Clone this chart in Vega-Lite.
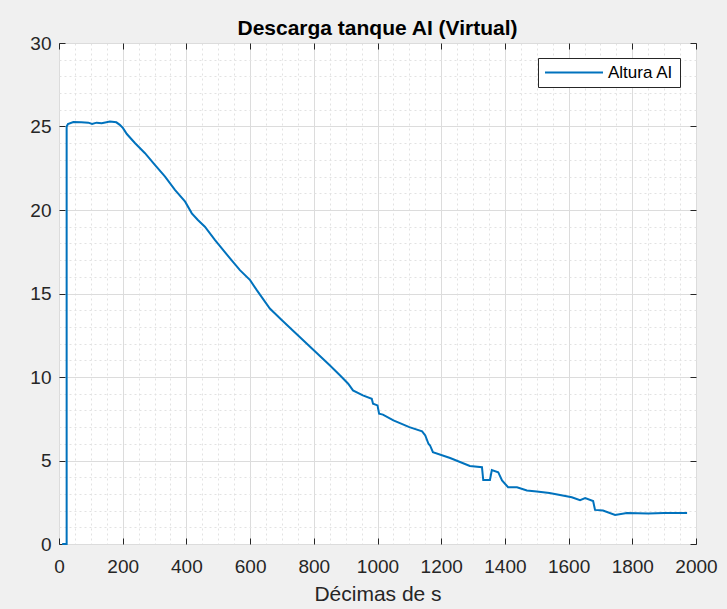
{
  "$schema": "https://vega.github.io/schema/vega-lite/v6.json",
  "autosize": "none",
  "width": 637,
  "height": 501,
  "padding": {"left": 59, "top": 43, "right": 31, "bottom": 65},
  "background": "#f0f0f0",
  "config": {
    "view": {"fill": "white", "stroke": "#262626", "strokeWidth": 1},
    "font": "Liberation Sans"
  },
  "title": {"text": "Descarga tanque AI (Virtual)", "fontSize": 21, "fontWeight": "bold", "font": "Liberation Sans", "color": "#000000", "anchor": "middle", "offset": -5},
  "data": {"values": [
    {"t": 10, "h": 0, "serie": "Altura AI"},
    {"t": 24, "h": 0, "serie": "Altura AI"},
    {"t": 24, "h": 25.0, "serie": "Altura AI"},
    {"t": 28, "h": 25.15, "serie": "Altura AI"},
    {"t": 45, "h": 25.27, "serie": "Altura AI"},
    {"t": 70, "h": 25.25, "serie": "Altura AI"},
    {"t": 92, "h": 25.23, "serie": "Altura AI"},
    {"t": 104, "h": 25.15, "serie": "Altura AI"},
    {"t": 118, "h": 25.23, "serie": "Altura AI"},
    {"t": 134, "h": 25.2, "serie": "Altura AI"},
    {"t": 160, "h": 25.3, "serie": "Altura AI"},
    {"t": 180, "h": 25.25, "serie": "Altura AI"},
    {"t": 191, "h": 25.1, "serie": "Altura AI"},
    {"t": 201, "h": 24.9, "serie": "Altura AI"},
    {"t": 213, "h": 24.55, "serie": "Altura AI"},
    {"t": 239, "h": 24.0, "serie": "Altura AI"},
    {"t": 270, "h": 23.4, "serie": "Altura AI"},
    {"t": 301, "h": 22.7, "serie": "Altura AI"},
    {"t": 333, "h": 22.0, "serie": "Altura AI"},
    {"t": 364, "h": 21.2, "serie": "Altura AI"},
    {"t": 396, "h": 20.5, "serie": "Altura AI"},
    {"t": 417, "h": 19.8, "serie": "Altura AI"},
    {"t": 436, "h": 19.4, "serie": "Altura AI"},
    {"t": 458, "h": 19.0, "serie": "Altura AI"},
    {"t": 490, "h": 18.2, "serie": "Altura AI"},
    {"t": 537, "h": 17.1, "serie": "Altura AI"},
    {"t": 568, "h": 16.4, "serie": "Altura AI"},
    {"t": 600, "h": 15.8, "serie": "Altura AI"},
    {"t": 621, "h": 15.2, "serie": "Altura AI"},
    {"t": 662, "h": 14.1, "serie": "Altura AI"},
    {"t": 700, "h": 13.4, "serie": "Altura AI"},
    {"t": 750, "h": 12.5, "serie": "Altura AI"},
    {"t": 800, "h": 11.6, "serie": "Altura AI"},
    {"t": 850, "h": 10.7, "serie": "Altura AI"},
    {"t": 882, "h": 10.1, "serie": "Altura AI"},
    {"t": 908, "h": 9.6, "serie": "Altura AI"},
    {"t": 923, "h": 9.2, "serie": "Altura AI"},
    {"t": 954, "h": 8.9, "serie": "Altura AI"},
    {"t": 982, "h": 8.7, "serie": "Altura AI"},
    {"t": 986, "h": 8.4, "serie": "Altura AI"},
    {"t": 1000, "h": 8.3, "serie": "Altura AI"},
    {"t": 1005, "h": 7.8, "serie": "Altura AI"},
    {"t": 1017, "h": 7.75, "serie": "Altura AI"},
    {"t": 1050, "h": 7.4, "serie": "Altura AI"},
    {"t": 1100, "h": 7.0, "serie": "Altura AI"},
    {"t": 1140, "h": 6.75, "serie": "Altura AI"},
    {"t": 1150, "h": 6.5, "serie": "Altura AI"},
    {"t": 1160, "h": 6.0, "serie": "Altura AI"},
    {"t": 1165, "h": 5.9, "serie": "Altura AI"},
    {"t": 1174, "h": 5.5, "serie": "Altura AI"},
    {"t": 1228, "h": 5.15, "serie": "Altura AI"},
    {"t": 1290, "h": 4.67, "serie": "Altura AI"},
    {"t": 1328, "h": 4.6, "serie": "Altura AI"},
    {"t": 1332, "h": 3.83, "serie": "Altura AI"},
    {"t": 1353, "h": 3.83, "serie": "Altura AI"},
    {"t": 1359, "h": 4.43, "serie": "Altura AI"},
    {"t": 1379, "h": 4.3, "serie": "Altura AI"},
    {"t": 1391, "h": 3.8, "serie": "Altura AI"},
    {"t": 1410, "h": 3.4, "serie": "Altura AI"},
    {"t": 1438, "h": 3.4, "serie": "Altura AI"},
    {"t": 1469, "h": 3.2, "serie": "Altura AI"},
    {"t": 1500, "h": 3.15, "serie": "Altura AI"},
    {"t": 1540, "h": 3.05, "serie": "Altura AI"},
    {"t": 1573, "h": 2.93, "serie": "Altura AI"},
    {"t": 1610, "h": 2.8, "serie": "Altura AI"},
    {"t": 1636, "h": 2.63, "serie": "Altura AI"},
    {"t": 1652, "h": 2.75, "serie": "Altura AI"},
    {"t": 1677, "h": 2.57, "serie": "Altura AI"},
    {"t": 1683, "h": 2.04, "serie": "Altura AI"},
    {"t": 1708, "h": 2.0, "serie": "Altura AI"},
    {"t": 1746, "h": 1.74, "serie": "Altura AI"},
    {"t": 1783, "h": 1.85, "serie": "Altura AI"},
    {"t": 1850, "h": 1.82, "serie": "Altura AI"},
    {"t": 1900, "h": 1.85, "serie": "Altura AI"},
    {"t": 1972, "h": 1.85, "serie": "Altura AI"}
  ]},
  "resolve": {"axis": {"x": "independent", "y": "independent"}},
  "layer": [
    {
      "mark": {"type": "line", "strokeOpacity": 0},
      "encoding": {
        "x": {"field": "t", "type": "quantitative", "scale": {"domain": [0, 2000], "nice": false},
          "axis": {"orient": "bottom", "title": null, "labels": false, "ticks": false, "domain": false, "grid": true,
            "values": [50,100,150,250,300,350,450,500,550,650,700,750,850,900,950,1050,1100,1150,1250,1300,1350,1450,1500,1550,1650,1700,1750,1850,1900,1950],
            "gridColor": "#e2e2e2", "gridDash": [2, 3], "gridWidth": 1}},
        "y": {"field": "h", "type": "quantitative", "scale": {"domain": [0, 30], "nice": false},
          "axis": {"orient": "left", "title": null, "labels": false, "ticks": false, "domain": false, "grid": true,
            "values": [1,2,3,4,6,7,8,9,11,12,13,14,16,17,18,19,21,22,23,24,26,27,28,29],
            "gridColor": "#e2e2e2", "gridDash": [2, 3], "gridWidth": 1}}
      }
    },
    {
      "mark": {"type": "line", "strokeOpacity": 0},
      "encoding": {
        "x": {"field": "t", "type": "quantitative", "scale": {"domain": [0, 2000], "nice": false},
          "axis": {"orient": "bottom", "title": "Décimas de s", "values": [0,200,400,600,800,1000,1200,1400,1600,1800,2000], "format": "d",
            "grid": true, "gridColor": "#dcdcdc", "gridWidth": 1, "domain": false,
            "ticks": true, "tickSize": -6, "tickColor": "#262626", "tickWidth": 1,
            "labelFont": "Liberation Sans", "labelFontSize": 19, "labelColor": "#262626", "labelPadding": 19, "labelFlush": false,
            "titleFont": "Liberation Sans", "titleFontSize": 21, "titleFontWeight": "normal", "titleColor": "#262626", "titlePadding": 7}},
        "y": {"field": "h", "type": "quantitative", "scale": {"domain": [0, 30], "nice": false},
          "axis": {"orient": "left", "title": null, "values": [0,5,10,15,20,25,30], "format": "d",
            "grid": true, "gridColor": "#dcdcdc", "gridWidth": 1, "domain": false,
            "ticks": true, "tickSize": -6, "tickColor": "#262626", "tickWidth": 1,
            "labelFont": "Liberation Sans", "labelFontSize": 19, "labelColor": "#262626", "labelPadding": 14, "labelFlush": false}}
      }
    },
    {
      "mark": {"type": "line", "strokeOpacity": 0},
      "encoding": {
        "x": {"field": "t", "type": "quantitative", "scale": {"domain": [0, 2000], "nice": false},
          "axis": {"orient": "top", "title": null, "labels": false, "grid": false, "domain": false,
            "values": [0,200,400,600,800,1000,1200,1400,1600,1800,2000],
            "ticks": true, "tickSize": -6, "tickColor": "#262626", "tickWidth": 1}},
        "y": {"field": "h", "type": "quantitative", "scale": {"domain": [0, 30], "nice": false},
          "axis": {"orient": "right", "title": null, "labels": false, "grid": false, "domain": false,
            "values": [0,5,10,15,20,25,30],
            "ticks": true, "tickSize": -6, "tickColor": "#262626", "tickWidth": 1}}
      }
    },
    {
      "mark": {"type": "line", "strokeWidth": 2},
      "encoding": {
        "x": {"field": "t", "type": "quantitative", "scale": {"domain": [0, 2000], "nice": false}, "axis": null},
        "y": {"field": "h", "type": "quantitative", "scale": {"domain": [0, 30], "nice": false}, "axis": null},
        "order": {"field": "t"},
        "color": {"field": "serie", "type": "nominal", "scale": {"range": ["#0072BD"]},
          "legend": {"title": null, "orient": "none", "legendX": 479, "legendY": 15,
            "fillColor": "white", "strokeColor": "#262626", "padding": 6, "cornerRadius": 0,
            "symbolType": "stroke", "symbolSize": 3364, "symbolStrokeWidth": 2, "symbolOffset": 0, "clipHeight": 17,
            "labelFont": "Liberation Sans", "labelFontSize": 17, "labelColor": "#000000", "labelOffset": 4}}
      }
    }
  ]
}
